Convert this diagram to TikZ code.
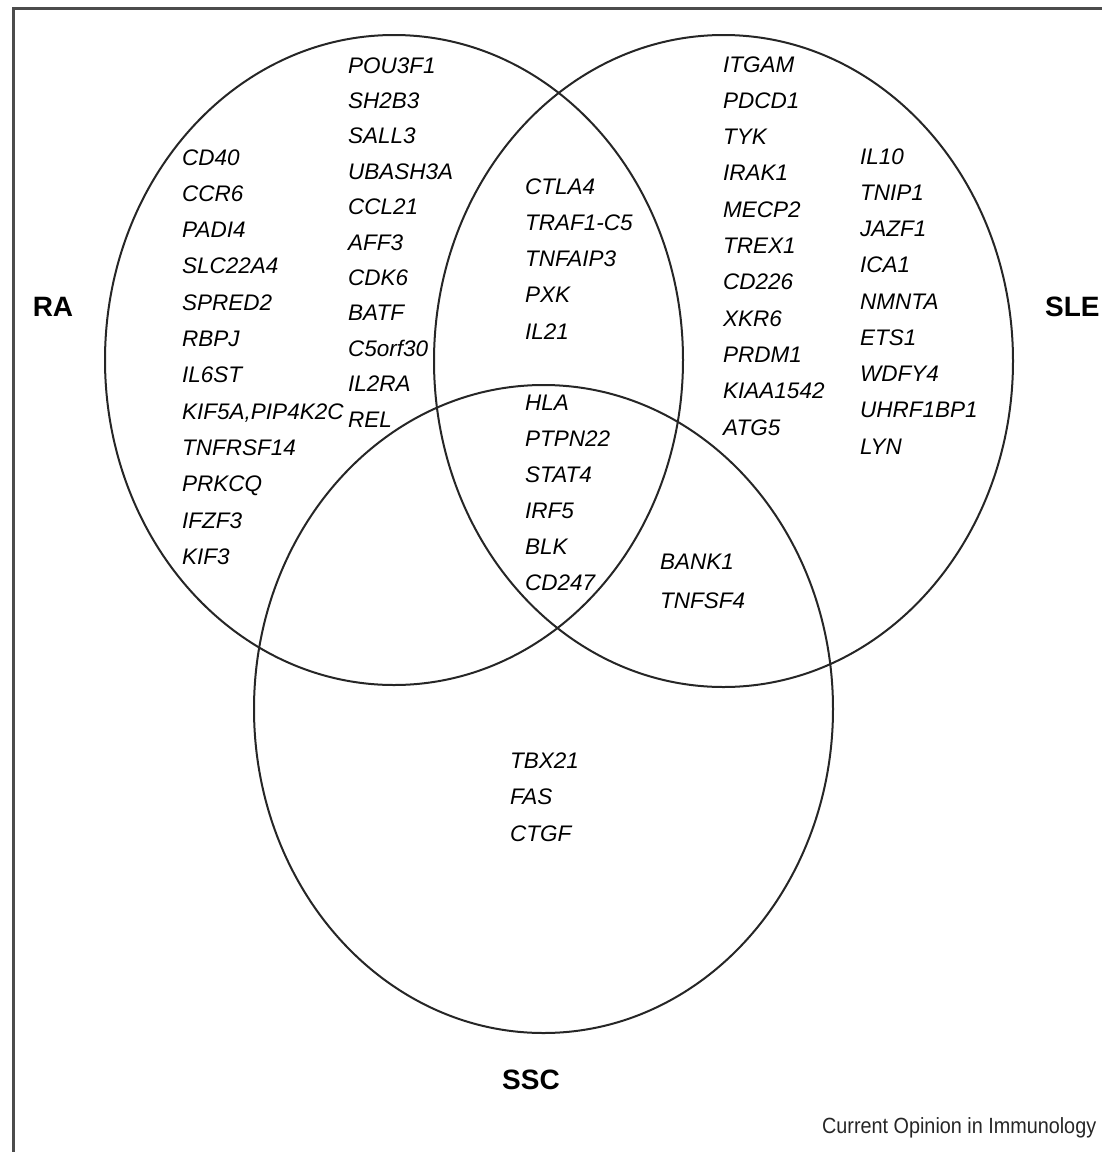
\documentclass[tikz,border=0pt]{standalone}
\usepackage{fontspec}
\setmainfont{Liberation Sans}
\begin{document}
\begin{tikzpicture}[x=1pt,y=-1pt,
  gene/.style={anchor=base west, inner sep=0pt, text=black,
    font=\fontsize{22.5}{24}\selectfont\itshape},
  setlbl/.style={inner sep=0pt, text=black,
    font=\fontsize{28}{30}\selectfont\bfseries},
  ring/.style={line width=2pt, draw=black!85},
  frame/.style={line width=3pt, draw=black!70}]
\useasboundingbox (0,0) rectangle (1102,1152);

% outer frame (top and left edges)
\draw[frame] (13,1160) -- (13,8) -- (1110,8);

% the three sets
\draw[ring] (394,360) ellipse [x radius=289, y radius=325];
\draw[ring] (723.5,361) ellipse [x radius=289.5, y radius=326];
\draw[ring] (543.5,709) ellipse [x radius=289.5, y radius=324];

% set labels
\node[setlbl, anchor=base] (ra)  at (53,316)   {RA};
\node[setlbl, anchor=base west] (sle) at (1045,316) {SLE};
\node[setlbl, anchor=base] (ssc) at (531,1089) {SSC};

% RA only, first column
\foreach \g [count=\i] in {CD40,CCR6,PADI4,SLC22A4,SPRED2,RBPJ,IL6ST,
    {KIF5A,PIP4K2C},TNFRSF14,PRKCQ,IFZF3,KIF3}
  \node[gene] (raA-\i) at (182,{165+(\i-1)*36.3}) {\g};

% RA only, second column
\foreach \g [count=\i] in {POU3F1,SH2B3,SALL3,UBASH3A,CCL21,AFF3,CDK6,BATF,
    C5orf30,IL2RA,REL}
  \node[gene] (raB-\i) at (348,{73+(\i-1)*35.4}) {\g};

% RA and SLE
\foreach \g [count=\i] in {CTLA4,TRAF1-C5,TNFAIP3,PXK,IL21}
  \node[gene] (rasle-\i) at (525,{194+(\i-1)*36.25}) {\g};

% RA, SLE and SSC
\foreach \g [count=\i] in {HLA,PTPN22,STAT4,IRF5,BLK,CD247}
  \node[gene] (all-\i) at (525,{410+(\i-1)*36}) {\g};

% SLE only, first column
\foreach \g [count=\i] in {ITGAM,PDCD1,TYK,IRAK1,MECP2,TREX1,CD226,XKR6,
    PRDM1,KIAA1542,ATG5}
  \node[gene] (sleA-\i) at (723,{72+(\i-1)*36.3}) {\g};

% SLE only, second column
\foreach \g [count=\i] in {IL10,TNIP1,JAZF1,ICA1,NMNTA,ETS1,WDFY4,UHRF1BP1,LYN}
  \node[gene] (sleB-\i) at (860,{164+(\i-1)*36.25}) {\g};

% SLE and SSC
\node[gene] (slessc-1) at (660,569) {BANK1};
\node[gene] (slessc-2) at (660,608) {TNFSF4};

% SSC only
\foreach \g [count=\i] in {TBX21,FAS,CTGF}
  \node[gene] (ssc-\i) at (510,{768+(\i-1)*36.5}) {\g};

% source line
\node[anchor=base west, inner sep=0pt, text=black!85, xscale=0.9,
  transform shape, font=\fontsize{22}{24}\selectfont] (src) at (822,1133)
  {Current Opinion in Immunology};
\end{tikzpicture}
\end{document}
